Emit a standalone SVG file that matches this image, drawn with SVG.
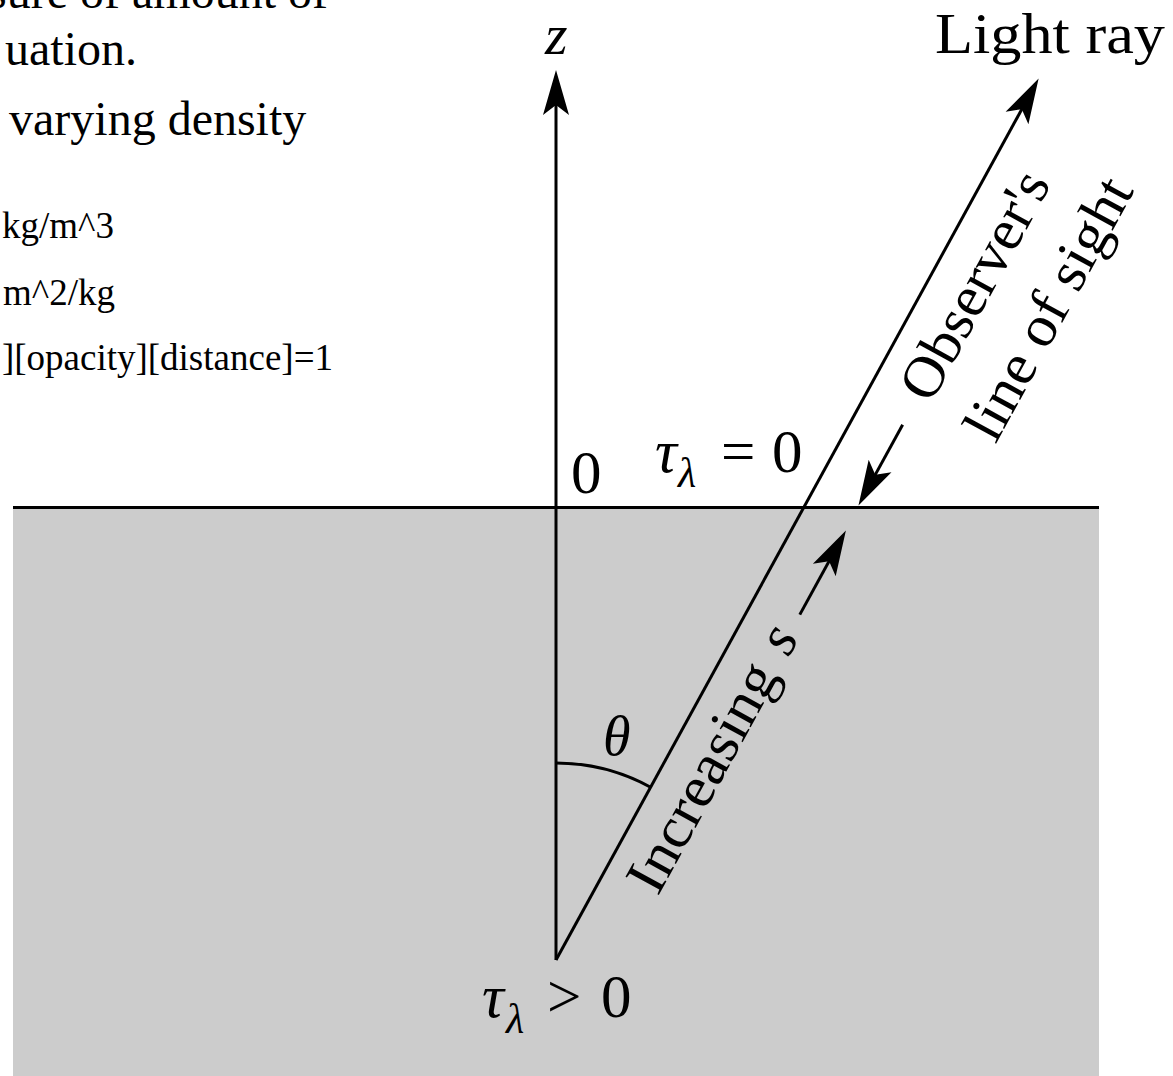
<svg xmlns="http://www.w3.org/2000/svg" width="1173" height="1076" viewBox="0 0 1173 1076">
<style>
.t{font-family:"Liberation Serif","Times New Roman",serif;fill:#000}
.i{font-style:italic}
.ln{stroke:#000;stroke-width:3;fill:none}
.ar{stroke:#000;stroke-width:3;fill:none;marker-end:url(#ah)}
</style>
<defs>
<marker id="ah" viewBox="-46 -14 48 28" refX="-8" refY="0" markerWidth="48" markerHeight="28" markerUnits="userSpaceOnUse" orient="auto">
<path d="M0,0 L-45,-13 L-35,0 L-45,13 Z" fill="#000"/>
</marker>
</defs>
<rect width="1173" height="1076" fill="#fff"/>
<g id="notes">
<text class="t" x="328" y="8" font-size="48" text-anchor="end">sure of amount of</text>
<text class="t" x="137" y="65" font-size="48" text-anchor="end">uation.</text>
<text class="t" x="9" y="135" font-size="48">varying density</text>
<text class="t" x="2" y="238" font-size="37">kg/m^3</text>
<text class="t" x="3" y="305" font-size="37">m^2/kg</text>
<text class="t" x="333" y="370" font-size="37" text-anchor="end">][opacity][distance]=1</text>
</g>
<g id="medium">
<rect x="13" y="508" width="1086" height="568" fill="#cccccc"/>
<line class="ln" x1="13" y1="507.5" x2="1099" y2="507.5" stroke-width="3.5"/>
</g>
<g id="connectors">
<line class="ar" x1="556" y1="960" x2="556" y2="78"/>
<path class="ln" d="M556,763 A197,197 0 0 1 650.6,787.2" stroke-width="2.5"/>
<g transform="translate(556,960) rotate(-61.3)">
<line class="ar" x1="0" y1="0" x2="997" y2="0"/>
<line class="ar" x1="636" y1="47" x2="552" y2="47"/>
<line class="ar" x1="420" y1="48" x2="508" y2="48"/>
</g>
</g>
<g id="labels">
<text class="t" x="935" y="53" font-size="56" textLength="230" lengthAdjust="spacingAndGlyphs">Light ray</text>
<text class="t i" x="545" y="54" font-size="58">z</text>
<text class="t" x="571" y="493" font-size="61">0</text>
<g id="tau0">
<text class="t i" x="655" y="472" font-size="61">τ</text>
<text class="t i" x="678" y="487" font-size="42">λ</text>
<text class="t" x="721" y="472" font-size="61">=</text>
<text class="t" x="772" y="472" font-size="61">0</text>
</g>
<g id="taupos">
<text class="t i" x="482" y="1017" font-size="61">τ</text>
<text class="t i" x="506" y="1033" font-size="42">λ</text>
<text class="t" x="547" y="1017" font-size="61">&gt;</text>
<text class="t" x="601" y="1017" font-size="61">0</text>
</g>
<text class="t i" x="603" y="755" font-size="56">θ</text>
<g transform="translate(556,960) rotate(-61.3)">
<text class="t" x="104" y="59" font-size="58" textLength="253" lengthAdjust="spacingAndGlyphs">Increasing</text>
<text class="t i" x="377" y="59" font-size="58">s</text>
<text class="t" x="667" y="62" font-size="58" textLength="252" lengthAdjust="spacingAndGlyphs">Observer's</text>
<text class="t" x="663" y="138" font-size="58" textLength="290" lengthAdjust="spacingAndGlyphs">line of sight</text>
</g>
</g>
</svg>
